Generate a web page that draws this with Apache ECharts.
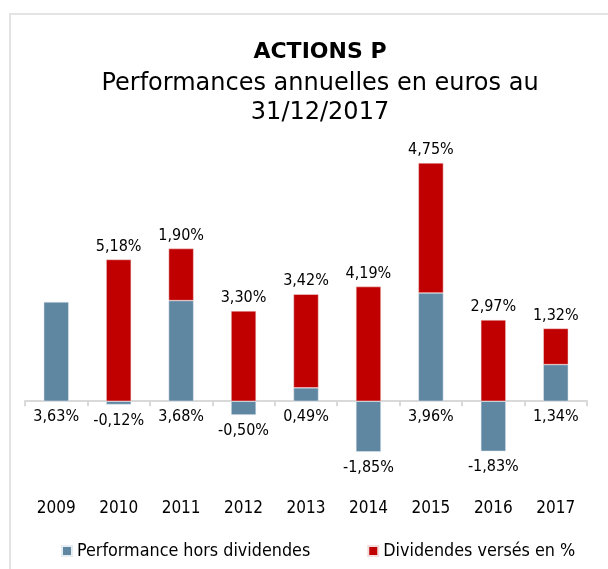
<!DOCTYPE html>
<html>
<head>
<meta charset="utf-8">
<script src="https://cdn.jsdelivr.net/npm/echarts@6/dist/echarts.min.js"></script>
<style>
  html, body { margin: 0; padding: 0; background: #fff; }
  #frame { position: absolute; left: 9px; top: 13px; width: 700px; height: 700px; border: 2px solid #e4e4e4; }
  #chart-container { position: absolute; left: 0; top: 0; width: 608px; height: 569px; }
</style>
</head>
<body>
<div id="frame"></div>
<div id="chart-container"></div>
<script>
// données
const years = ['2009', '2010', '2011', '2012', '2013', '2014', '2015', '2016', '2017'];
const perfHorsDividendes = [3.63, -0.12, 3.68, -0.50, 0.49, -1.85, 3.96, -1.83, 1.34];
const dividendesVerses = [null, 5.18, 1.90, 3.30, 3.42, 4.19, 4.75, 2.97, 1.32];

const FONT = "'DejaVu Sans Condensed', 'DejaVu Sans', sans-serif";
const TITLE_FONT = "'DejaVu Sans', sans-serif";
const fmtPct = v => v.toFixed(2).replace('.', ',') + '%';

const chart = echarts.init(document.getElementById('chart-container'));

const option = {
  backgroundColor: 'transparent',
  animation: false,
  textStyle: { fontFamily: FONT },
  title: [
    { text: 'ACTIONS P', left: 315, textAlign: 'center', top: 36,
      textStyle: { fontFamily: TITLE_FONT, fontSize: 22, fontWeight: 'bold', color: '#000' } },
    { text: 'Performances annuelles en euros au', left: 315, textAlign: 'center', top: 67,
      textStyle: { fontFamily: TITLE_FONT, fontSize: 24, fontWeight: 'normal', color: '#000' } },
    { text: '31/12/2017', left: 315, textAlign: 'center', top: 96,
      textStyle: { fontFamily: TITLE_FONT, fontSize: 24, fontWeight: 'normal', color: '#000' } }
  ],
  legend: {
    left: 56,
    top: 537,
    itemWidth: 10,
    itemHeight: 10,
    itemGap: 57,
    icon: 'rect',
    textStyle: { fontFamily: FONT, fontSize: 17.8, color: '#000' },
    data: ['Performance hors dividendes', 'Dividendes versés en %']
  },
  grid: [
    { left: 25, right: 21, top: 155, bottom: 72 }
  ],
  xAxis: [
    {
      type: 'category',
      data: years,
      axisLine: { onZero: true, lineStyle: { color: '#d9d9d9', width: 2 } },
      axisTick: { show: true, length: 5, lineStyle: { color: '#d9d9d9', width: 2 } },
      axisLabel: { show: false }
    },
    {
      // second axe, seulement pour les années en bas du graphique
      type: 'category',
      data: years,
      position: 'bottom',
      axisLine: { show: false, onZero: false },
      axisTick: { show: false },
      axisLabel: { margin: 3, fontFamily: FONT, fontSize: 17, color: '#000' }
    }
  ],
  yAxis: {
    type: 'value',
    min: -3.5,
    max: 9,
    show: false,
    splitLine: { show: false }
  },
  series: [
    {
      name: 'Performance hors dividendes',
      type: 'bar',
      stack: 'total',
      barWidth: 25,
      data: perfHorsDividendes,
      itemStyle: { color: '#5f87a1', borderColor: '#e6edf2', borderWidth: 0.5 },
      label: {
        show: true,
        position: 'bottom',
        distance: 8,
        fontFamily: FONT,
        fontSize: 16,
        color: '#000',
        formatter: p => fmtPct(p.value)
      }
    },
    {
      name: 'Dividendes versés en %',
      type: 'bar',
      stack: 'total',
      barWidth: 25,
      data: dividendesVerses,
      itemStyle: { color: '#c00000', borderColor: '#f2dcdc', borderWidth: 0.5 },
      label: {
        show: true,
        position: 'top',
        distance: 5,
        fontFamily: FONT,
        fontSize: 16,
        color: '#000',
        formatter: p => (p.value == null ? '' : fmtPct(p.value))
      }
    }
  ]
};

chart.setOption(option);
</script>
</body>
</html>
